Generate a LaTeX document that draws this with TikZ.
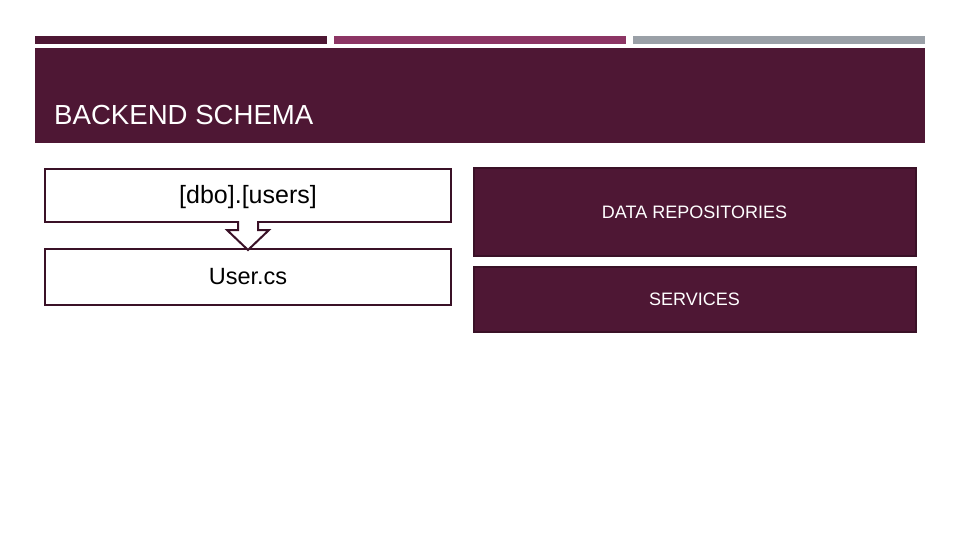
\documentclass[tikz,border=0pt]{standalone}
\usepackage{fontspec}
\setmainfont{Liberation Sans}
\usepackage{tikz}
\usetikzlibrary{calc,positioning}
\definecolor{wine}{HTML}{4E1734}
\definecolor{winedark}{HTML}{3A1127}
\definecolor{berry}{HTML}{8C3564}
\definecolor{slate}{HTML}{9AA0A7}
\tikzstyle{bar}    = [inner sep=0pt, outer sep=0pt, minimum height=8pt, minimum width=292pt]
\tikzstyle{schema} = [draw=winedark, line width=2pt, fill=white, minimum width=406pt, inner sep=0pt]
\tikzstyle{layer}  = [draw=winedark, line width=2pt, fill=wine, text=white, minimum width=442pt, inner sep=0pt,
                      font=\fontsize{18}{22}\selectfont]

\begin{document}
\begin{tikzpicture}[x=1pt, y=-1pt,
			banner/.style={fill=wine, inner sep=0pt, outer sep=0pt, minimum width=890pt, minimum height=95pt},
			downarrow/.style={draw=winedark, line width=2pt, fill=white, line join=miter},
		]
		\useasboundingbox (0,0) rectangle (960,540);

		\node[bar, fill=wine, anchor=north west] (bar1) at (35,36) {};
		\node[bar, fill=berry, right=7pt of bar1] (bar2) {};
		\node[bar, fill=slate, right=7pt of bar2] (bar3) {};
		\node[banner, anchor=north west] (banner) at (35,48) {};
		\node[anchor=base west, inner sep=0pt, text=white, font=\fontsize{27.6}{32}\selectfont] (title) at (54,124.5) {BACKEND SCHEMA};

		\node[schema, minimum height=53pt, font=\fontsize{25}{29}\selectfont, text depth=2pt] (users) at (248,195.5) {[dbo].[users]};
		\node[schema, minimum height=56pt, font=\fontsize{23.5}{27}\selectfont] (usercs) at (248,277) {User.cs};
		\filldraw[downarrow] ($(users.south)+(-10,-2)$) -- ++(0,9) -- ++(-11,0) -- ($(usercs.north)+(0,2)$)
			-- ($(users.south)+(21,7)$) -- ++(-11,0) -- ++(0,-9);

		\node[layer, minimum height=87pt] (repos) at (694.5,212) {DATA REPOSITORIES};
		\node[layer, minimum height=65pt] (services) at (694.5,299) {SERVICES};
	\end{tikzpicture}
\end{document}
